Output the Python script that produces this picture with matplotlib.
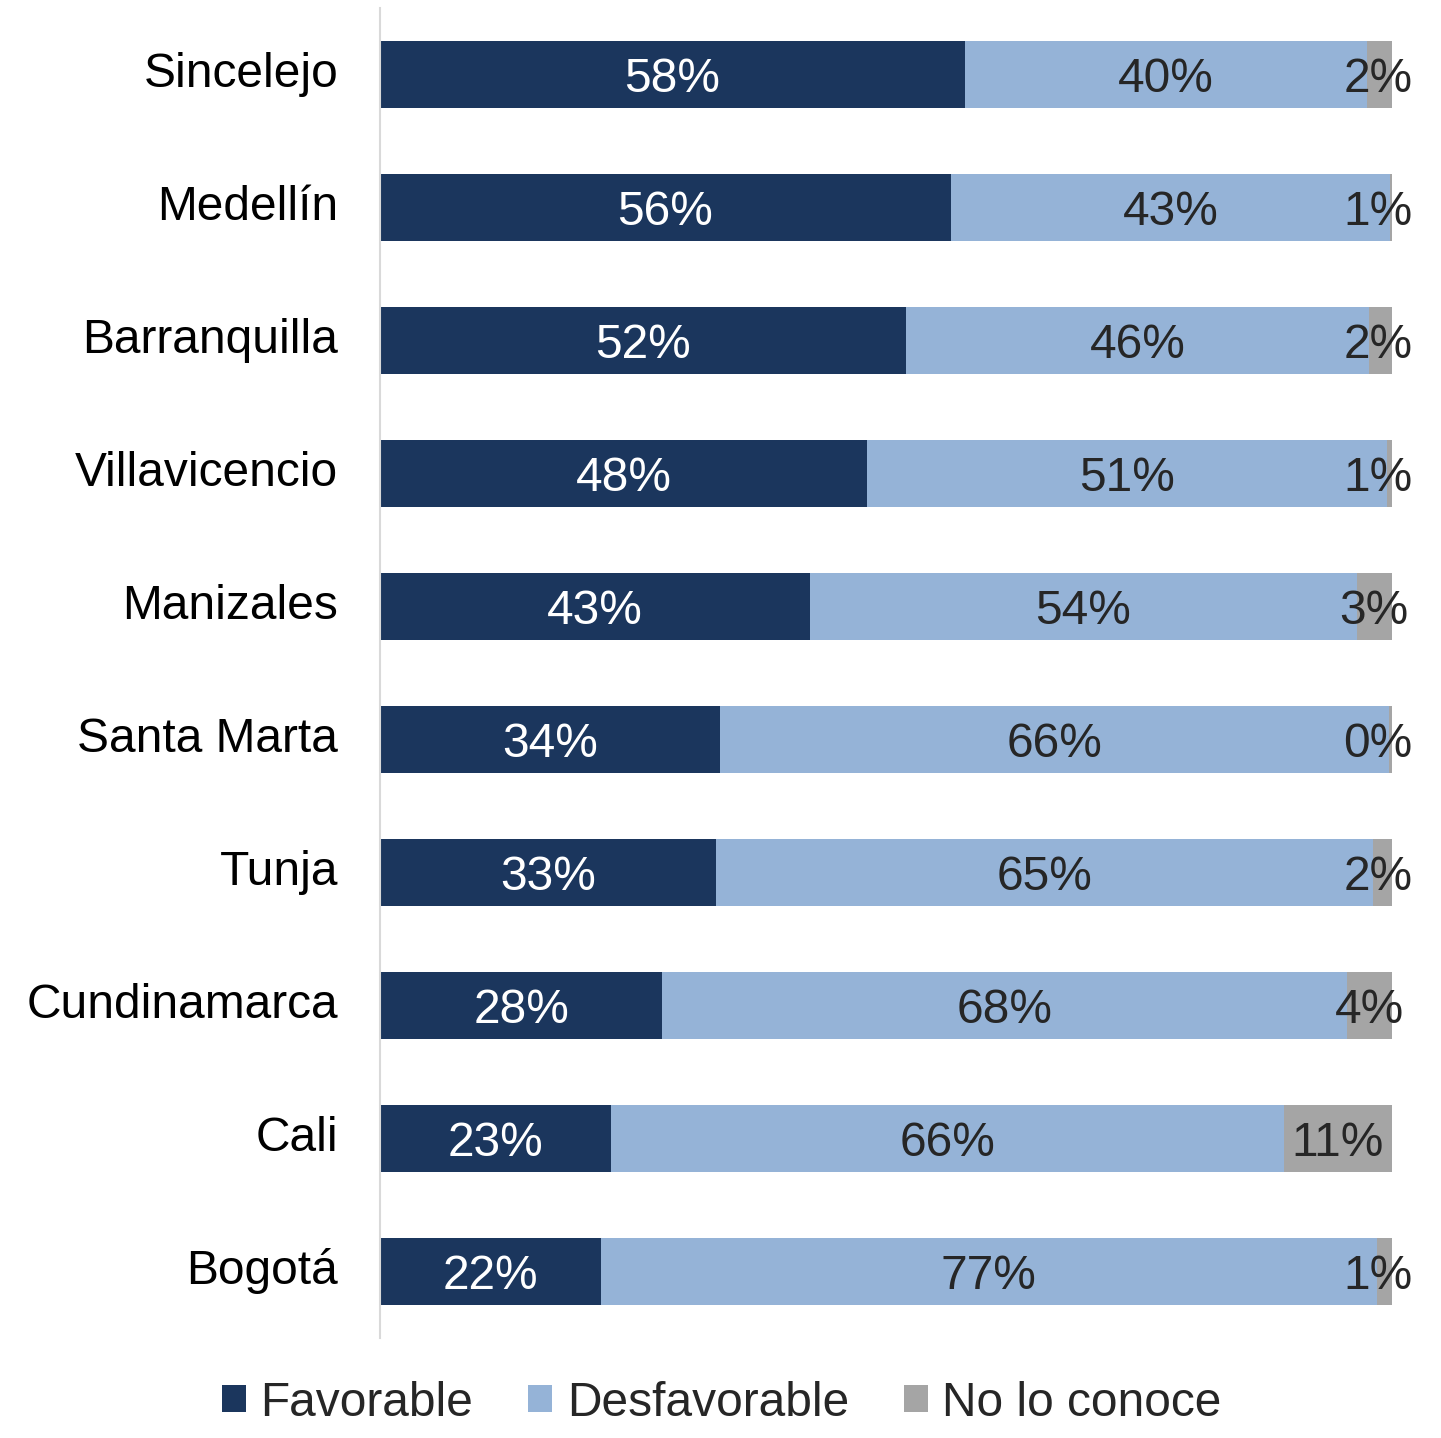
import numpy as np
import matplotlib.pyplot as plt

plt.rcParams['font.family'] = ['Liberation Sans', 'DejaVu Sans']

# cities, top to bottom
cities = ['Sincelejo', 'Medellín', 'Barranquilla', 'Villavicencio', 'Manizales',
          'Santa Marta', 'Tunja', 'Cundinamarca', 'Cali', 'Bogotá']

# segment sizes (as drawn) in %
favorable = [57.8, 56.4, 52.0, 48.1, 42.5, 33.6, 33.2, 27.9, 22.8, 21.8]
desfavorable = [39.7, 43.4, 45.7, 51.4, 54.0, 66.1, 64.9, 67.7, 66.5, 76.7]
no_conoce = [2.5, 0.2, 2.3, 0.5, 3.5, 0.3, 1.9, 4.4, 10.7, 1.5]

# percentages printed on the bars
fav_lbl = [58, 56, 52, 48, 43, 34, 33, 28, 23, 22]
des_lbl = [40, 43, 46, 51, 54, 66, 65, 68, 66, 77]
noc_lbl = [2, 1, 2, 1, 3, 0, 2, 4, 11, 1]

series = [
    ('Favorable', favorable, fav_lbl, '#1b365d', 'white'),
    ('Desfavorable', desfavorable, des_lbl, '#95b3d7', '#262626'),
    ('No lo conoce', no_conoce, noc_lbl, '#a5a5a5', '#262626'),
]

fig = plt.figure(figsize=(14.41, 14.38), dpi=100)
ax = fig.add_axes([380 / 1441, 100 / 1438, 1012 / 1441, 1330 / 1438])

y = np.arange(len(cities))
left = np.zeros(len(cities))
for name, vals, lbls, color, tcolor in series:
    vals = np.array(vals)
    ax.barh(y, vals, left=left, height=0.5, color=color, label=name)
    for yi, l, v, t in zip(y, left, vals, lbls):
        # labels of the thin end segments stay inside the plot edge
        xc = min(l + v / 2, 98.6)
        ax.text(xc, yi, f'{t}%', ha='center', va='center_baseline',
                fontsize=34.5, color=tcolor)
    left += vals

ax.set_xlim(0, 100)
ax.set_ylim(len(cities) - 0.5, -0.5)
ax.set_yticks(y)
ax.set_yticklabels(cities, fontsize=34.5, color='black', va='center')
ax.tick_params(axis='y', length=0, pad=30)
ax.set_xticks([])
for s in ['top', 'right', 'bottom']:
    ax.spines[s].set_visible(False)
ax.spines['left'].set_color('#d9d9d9')
ax.spines['left'].set_linewidth(1.5)

fig.legend(loc='center', bbox_to_anchor=(0.501, 1 - 1403 / 1438), ncol=3,
           frameon=False, fontsize=34.5, handlelength=0.5, handleheight=0.5,
           handletextpad=0.3, columnspacing=1.15, labelcolor='#262626')

fig.savefig('out.png', dpi=100)
